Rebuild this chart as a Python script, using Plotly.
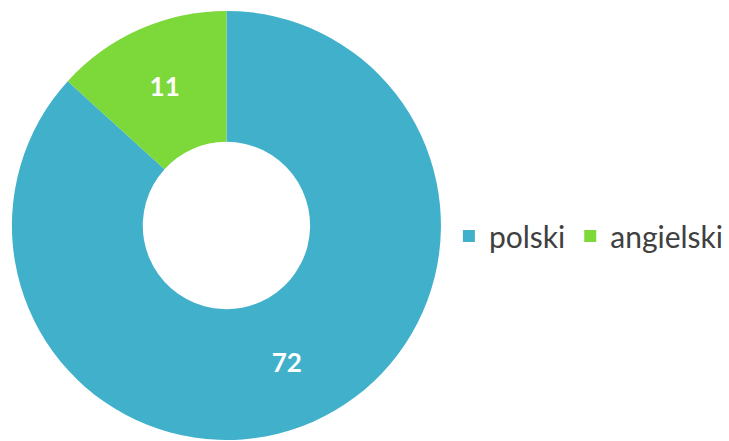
import plotly.graph_objects as go

labels = ["polski", "angielski"]
values = [72, 11]
colors = ["#41B1CB", "#7DD83A"]

W, H = 729, 441
fig = go.Figure(go.Pie(
    labels=labels,
    values=values,
    hole=0.39,
    sort=False,
    direction="clockwise",
    rotation=0,
    marker=dict(colors=colors, line=dict(width=0)),
    textinfo="value",
    textposition="inside",
    insidetextorientation="horizontal",
    textfont=dict(family="Lato", size=26, color="white", weight="bold"),
    domain=dict(x=[12 / W, 444 / W], y=[0, 1 - 10 / H]),
    hoverinfo="label+value",
))
fig.update_layout(
    width=W, height=H,
    margin=dict(l=0, r=0, t=0, b=0),
    paper_bgcolor="white",
    showlegend=True,
    legend=dict(
        orientation="h",
        x=452 / W, xanchor="left",
        y=1 - 236 / H, yanchor="middle",
        font=dict(family="Lato", size=30, color="#404040"),
        itemwidth=30,
        traceorder="normal",
    ),
)
fig.write_html("out.html")
